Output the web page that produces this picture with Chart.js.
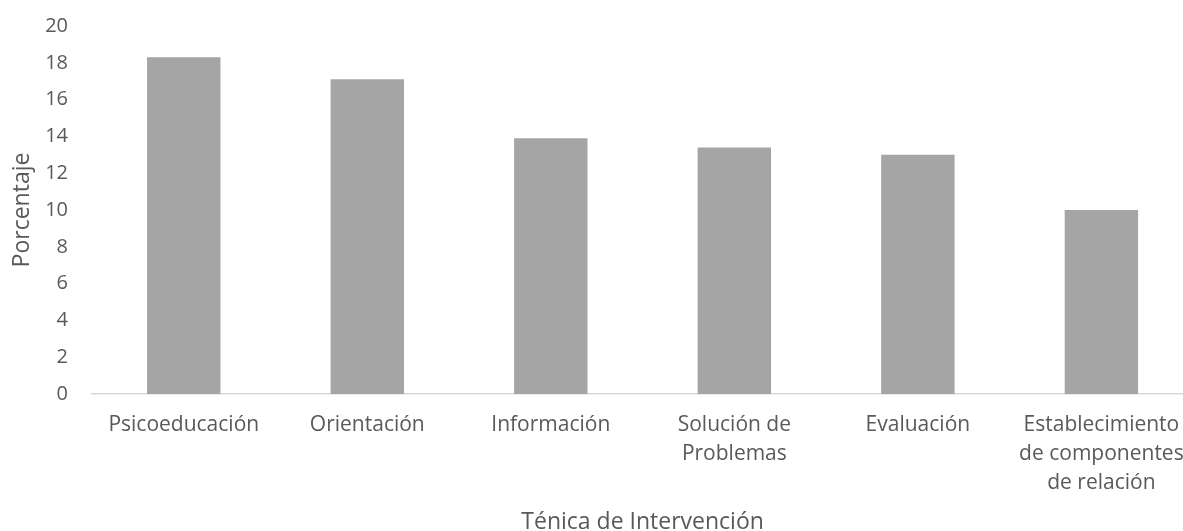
<!DOCTYPE html>
<html>
<head>
    <title>Técnica de Intervención</title>
    <script src="https://cdn.jsdelivr.net/npm/chart.js"></script>
    <style>
        html, body { margin: 0; padding: 0; background: #fff; overflow: hidden; }
        #graphContainer { width: 1200px; height: 550px; margin-top: -10px; }
    </style>
</head>
<body>
    <div id="graphContainer">
        <canvas id="myChart"></canvas>
    </div>

<script>
    // categorías del eje X (en varias líneas)
    const categorias = [
        'Psicoeducación',
        'Orientación',
        'Información',
        ['Solución de', 'Problemas'],
        'Evaluación',
        ['Establecimiento', 'de componentes', 'de relación']
    ];
    // porcentaje por técnica
    const porcentajes = [18.3, 17.1, 13.9, 13.4, 13.0, 10.0];
    // marcas del eje Y
    const ticksY = [0, 2, 4, 6, 8, 10, 12, 14, 16, 18, 20];

    const fuente = "'Open Sans', 'Noto Sans', sans-serif";
    const gris = '#595959';

    const ctx = document.getElementById('myChart').getContext('2d');
    const myChart = new Chart(ctx, {
        type: 'bar',
        data: {
            labels: categorias,
            datasets: [{
                label: 'Porcentaje',
                data: porcentajes,
                backgroundColor: '#A5A5A5',
                borderWidth: 0,
                barPercentage: 0.4,
                categoryPercentage: 1.0,
            }],
        },
        options: {
            responsive: true,
            maintainAspectRatio: false,
            animation: false,
            layout: {
                padding: { left: 0, right: 4, top: 3, bottom: 0 },
            },
            plugins: {
                legend: { display: false },
                tooltip: { enabled: false },
            },
            scales: {
                x: {
                    grid: { display: false, drawTicks: false },
                    border: { display: true, color: '#D9D9D9', width: 1.5 },
                    ticks: {
                        color: gris,
                        font: { family: fuente, size: 21, lineHeight: 1.4 },
                        padding: 16,
                        maxRotation: 0,
                        autoSkip: false,
                    },
                    title: {
                        display: true,
                        text: 'Ténica de Intervención',
                        color: gris,
                        font: { family: fuente, size: 23, lineHeight: 1 },
                        padding: { top: 0, bottom: 6 },
                    },
                    afterFit: (scale) => { scale.height = 146; },
                },
                y: {
                    min: 0,
                    max: 20,
                    grid: { display: false, drawTicks: false },
                    border: { display: false },
                    afterBuildTicks: (scale) => {
                        scale.ticks = ticksY.map(v => ({ value: v }));
                    },
                    ticks: {
                        color: gris,
                        font: { family: fuente, size: 20 },
                        padding: 24,
                    },
                    title: {
                        display: true,
                        text: 'Porcentaje',
                        color: gris,
                        font: { family: fuente, size: 23, lineHeight: 1 },
                        padding: { top: 11, bottom: 0 },
                    },
                    afterFit: (scale) => { scale.width = 92; },
                },
            },
        },
    });
</script>
</body>
</html>
